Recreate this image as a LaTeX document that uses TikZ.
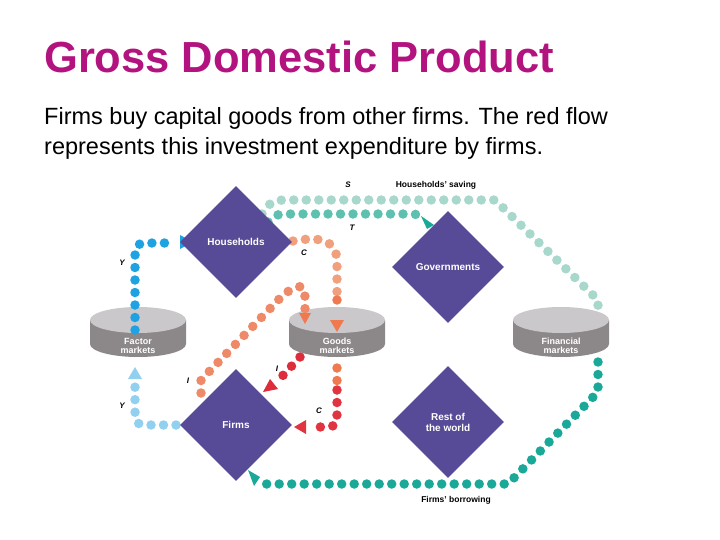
\documentclass[tikz,border=0pt]{standalone}
\usepackage{fontspec}
\setmainfont{Liberation Sans}
\usetikzlibrary{shapes.geometric}
\definecolor{titlec}{HTML}{B3137F}
\definecolor{dia}{HTML}{574A96}
\definecolor{cyltop}{HTML}{CAC8CA}
\definecolor{cylside}{HTML}{8C8789}
\definecolor{yblue}{HTML}{1FA2E2}
\definecolor{ylight}{HTML}{92D0F0}
\definecolor{corange}{HTML}{F0A07C}
\definecolor{cdark}{HTML}{F07A50}
\definecolor{cred}{HTML}{E03540}
\definecolor{isal}{HTML}{EE8A68}
\definecolor{ired}{HTML}{DD2C3A}
\definecolor{spale}{HTML}{A8D8CC}
\definecolor{tteal}{HTML}{5EC0AE}
\definecolor{bteal}{HTML}{1AA898}
\begin{document}
\begin{tikzpicture}[x=1pt,y=-1pt,
  dnode/.style={diamond,fill=dia,minimum width=112pt,minimum height=112pt,inner sep=0pt,text=white,font=\bfseries\fontsize{10}{11}\selectfont,align=center},
  flow/.style={line width=9.5pt,line cap=round,dash pattern=on 0pt off 12.5pt},
  lab/.style={font=\bfseries\itshape\fontsize{8}{9}\selectfont},
  blab/.style={font=\bfseries\fontsize{8.5}{9}\selectfont},
  clab/.style={text=white,font=\bfseries\fontsize{9}{9.5}\selectfont,align=center}]
\useasboundingbox (0,0) rectangle (720,540);
\node[anchor=base west,text=titlec,font=\bfseries\fontsize{43.5}{46}\selectfont,inner sep=0] (title) at (44,73) {Gross Domestic Product};
\node[anchor=base west,font=\fontsize{23.5}{28}\selectfont,inner sep=0] (body1) at (44,125) {Firms buy capital goods from other firms. The red flow};
\node[anchor=base west,font=\fontsize{23.5}{28}\selectfont,inner sep=0] (body2) at (44,155) {represents this investment expenditure by firms.};

% flows behind
\draw[flow,spale] (262,214) .. controls (272,200) .. (292,200) -- (495,200) -- (598,300) -- (598,322);
\draw[flow,tteal] (268,222) .. controls (276,214) .. (295,214) -- (405,214) .. controls (418,214) .. (424,220);
\fill[bteal] (434,225) -- (421,216) -- (427,229) -- cycle;
\node[lab] (S) at (348,185) {S};
\node[blab] (hs) at (436,185) {Households’ saving};
\node[lab] (T) at (352,228) {T};

\draw[flow,bteal] (598,362) -- (598,392) -- (508,484) -- (264,484);
\fill[bteal] (248,470) -- (260,477) -- (254,486) -- cycle;
\node[blab] (fb) at (456,500) {Firms’ borrowing};

% cylinders
\foreach \cx/\nm/\txt in {138/fac/{Factor\\markets},337/goo/{Goods\\markets},561/fin/{Financial\\markets}}{
  \fill[cylside] (\cx-48,320) -- (\cx-48,344) arc[start angle=180,end angle=0,x radius=48,y radius=13] -- (\cx+48,320) -- cycle;
  \fill[cyltop] (\cx,320) ellipse[x radius=48,y radius=13];
  \node[clab] (\nm) at (\cx,346) {\txt};
}

% Y flows
\draw[flow,yblue] (135,330) -- (135,262) .. controls (135,243) .. (155,243) -- (176,243);
\fill[yblue] (193,242) -- (180,235) -- (180,249) -- cycle;
\draw[flow,ylight] (176,425) -- (153,425) .. controls (135,425) .. (135,405) -- (135,384);
\fill[ylight] (135,367) -- (128,379) -- (142,379) -- cycle;
\node[lab] (Y1) at (122,263) {Y};
\node[lab] (Y2) at (122,406) {Y};

% C flows
\draw[flow,corange] (293,241) .. controls (320,236) and (337,240) .. (337,262) -- (337,300);
\draw[flow,cdark] (337,300) -- (337,312);
\fill[cdark] (337,332) -- (330,320) -- (344,320) -- cycle;
\node[lab] (C1) at (304,253) {C};
\draw[flow,cdark] (337,368) -- (337,390);
\draw[flow,cred] (337,390) -- (337,410) .. controls (337,427) .. (318,427) -- (312,427);
\fill[cred] (294,427) -- (306,420) -- (306,434) -- cycle;
\node[lab] (C2) at (319,411) {C};

% I flows
\draw[flow,isal] (201,393) -- (201,380) -- (285,293) .. controls (305,283) .. (305,305) -- (305,310);
\fill[cdark] (305,324) -- (299,313) -- (311,313) -- cycle;
\node[lab] (I1) at (188,381) {I};
\draw[flow,ired] (300,357) -- (275,384);
\fill[ired] (263,392) -- (270,379) -- (278,389) -- cycle;
\node[lab] (I2) at (277,369) {I};

% diamonds
\node[dnode] (hh) at (236,242) {Households};
\node[dnode] (firms) at (236,425) {Firms};
\node[dnode] (gov) at (448,267) {Governments};
\node[dnode] (row) at (448,422) {Rest of\\the world};
\end{tikzpicture}
\end{document}
